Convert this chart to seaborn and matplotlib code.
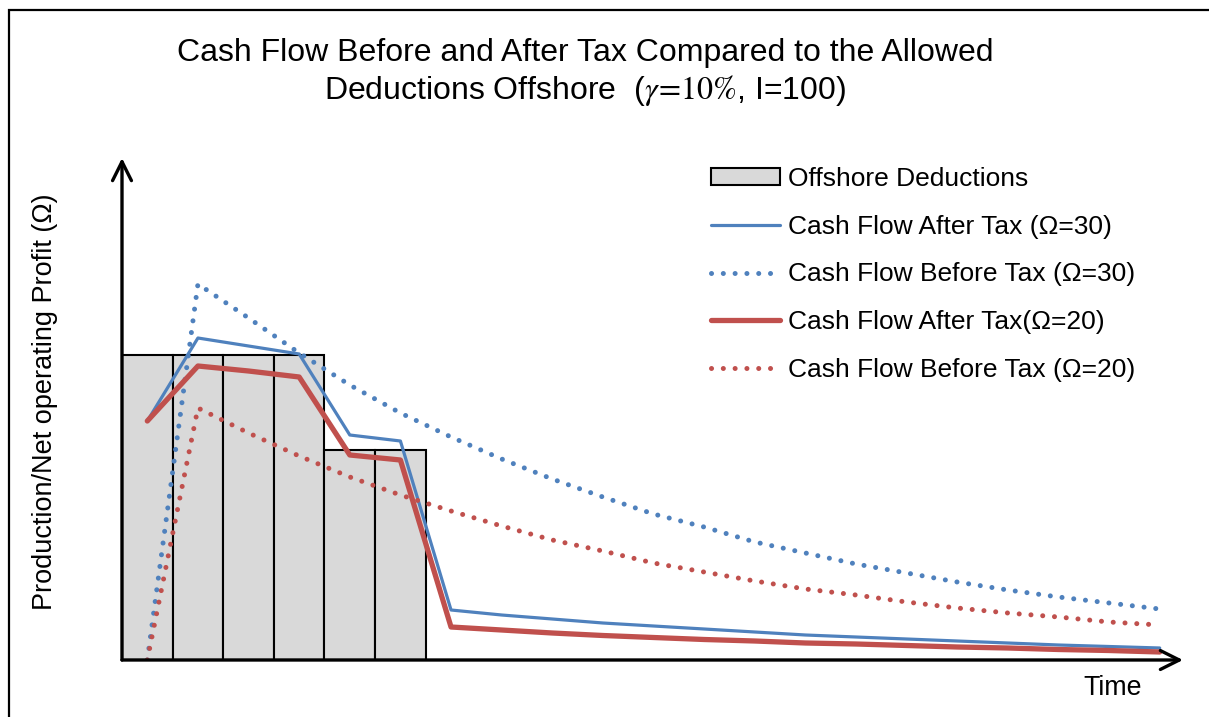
import numpy as np
import pandas as pd
import seaborn as sns
import matplotlib.pyplot as plt
from matplotlib.patches import Rectangle

# period index for the cash-flow series and for the deduction bars
periods = list(range(21))
bar_periods = [0, 1, 2, 3, 4, 5]
deductions = [30.5, 30.5, 30.5, 30.5, 21.0, 21.0]

after_tax_30 = [23.9, 32.2, 31.4, 30.6, 22.5, 21.9, 5.0, 4.5, 4.1, 3.7, 3.4,
                3.1, 2.8, 2.5, 2.3, 2.1, 1.9, 1.7, 1.5, 1.35, 1.2]
before_tax_30 = [0.0, 37.6, 34.2, 30.7, 27.5, 24.7, 22.3, 20.1, 18.1, 16.3, 14.6,
                 13.3, 11.8, 10.7, 9.6, 8.7, 7.8, 7.0, 6.3, 5.7, 5.1]
after_tax_20 = [23.9, 29.4, 28.9, 28.3, 20.5, 20.0, 3.3, 3.0, 2.7, 2.45, 2.25,
                2.05, 1.9, 1.7, 1.6, 1.45, 1.3, 1.2, 1.05, 0.95, 0.8]
before_tax_20 = [0.0, 25.2, 22.7, 20.4, 18.3, 16.5, 14.9, 13.4, 12.0, 10.9, 9.7,
                 8.8, 7.9, 7.1, 6.5, 5.8, 5.2, 4.7, 4.3, 3.8, 3.5]

BLUE = "#4F81BD"
RED = "#C0504D"


def main():
    sns.set_style("white")
    plt.rcParams['font.family'] = ['Liberation Sans', 'DejaVu Sans']
    plt.rcParams['mathtext.fontset'] = 'stix'
    plt.rcParams['text.color'] = 'black'
    plt.rcParams['axes.labelcolor'] = 'black'

    W, H = 1209, 717
    fig = plt.figure(figsize=(W / 100, H / 100), dpi=100)
    ax = fig.add_axes([122 / W, 1 - 660 / H, (1183 - 122) / W, (660 - 158) / H])

    bars = pd.DataFrame({"period": bar_periods, "deduction": deductions})
    sns.barplot(data=bars, x="period", y="deduction", native_scale=True,
                width=1.0, color="#D9D9D9", edgecolor="black", linewidth=1.5,
                saturation=1, label="Offshore Deductions", ax=ax, zorder=1)

    dots = (0, (0.01, 2.35))
    sns.lineplot(x=periods, y=after_tax_30, color=BLUE, lw=2.3,
                 label="Cash Flow After Tax (\u03a9=30)", ax=ax, zorder=3)
    sns.lineplot(x=periods, y=before_tax_30, color=BLUE, lw=3.6, linestyle=dots,
                 label="Cash Flow Before Tax (\u03a9=30)", ax=ax, zorder=3)
    sns.lineplot(x=periods, y=after_tax_20, color=RED, lw=3.8,
                 label="Cash Flow After Tax(\u03a9=20)", ax=ax, zorder=3)
    sns.lineplot(x=periods, y=before_tax_20, color=RED, lw=3.6, linestyle=dots,
                 label="Cash Flow Before Tax (\u03a9=20)", ax=ax, zorder=3)
    for line in ax.lines:
        line.set_dash_capstyle("round")

    ax.set_xlim(-0.5, 20.46)
    ax.set_ylim(0, 50.2)
    ax.set_xticks([])
    ax.set_yticks([])
    for s in ax.spines.values():
        s.set_visible(False)

    # axis arrows
    arrow = dict(arrowstyle="->", lw=2.4, color="black", mutation_scale=34,
                 shrinkA=0, shrinkB=0)
    ax.annotate("", xy=(1, 0), xytext=(0, 0), xycoords="axes fraction",
                arrowprops=arrow, zorder=5)
    ax.annotate("", xy=(0, 1), xytext=(0, 0), xycoords="axes fraction",
                arrowprops=arrow, zorder=5)

    ax.set_xlabel("Time", fontsize=19.3, va="center")
    ax.xaxis.set_label_coords(0.934, -0.056)
    ax.set_ylabel("Production/Net operating Profit (\u03a9)", fontsize=19.5, va="center")
    ax.yaxis.set_label_coords(-0.0726, 0.514)

    fig.text(585 / W, 1 - 73 / H,
             "Cash Flow Before and After Tax Compared to the Allowed\n"
             r"Deductions Offshore  ($\gamma\!=\!10\%$, I=100)",
             ha="center", va="center", fontsize=23, linespacing=1.2)

    handles, labels = ax.get_legend_handles_labels()
    order = [labels.index("Offshore Deductions")] + \
        [i for i, l in enumerate(labels) if l != "Offshore Deductions"]
    ax.legend([handles[i] for i in order], [labels[i] for i in order],
              loc="upper left", bbox_to_anchor=(711 / W, 1 - 167 / H),
              bbox_transform=fig.transFigure, frameon=False, fontsize=19,
              handlelength=2.6, handleheight=0.6, handletextpad=0.3,
              labelspacing=0.9, borderpad=0, borderaxespad=0)

    # outer chart border
    fig.patches.append(Rectangle((9 / W, -0.1), 1.2, 1 - 10 / H + 0.1,
                                 transform=fig.transFigure, fill=False,
                                 lw=1.6, edgecolor="black"))

    fig.savefig("out.png", dpi=100)


if __name__ == '__main__':
    main()
